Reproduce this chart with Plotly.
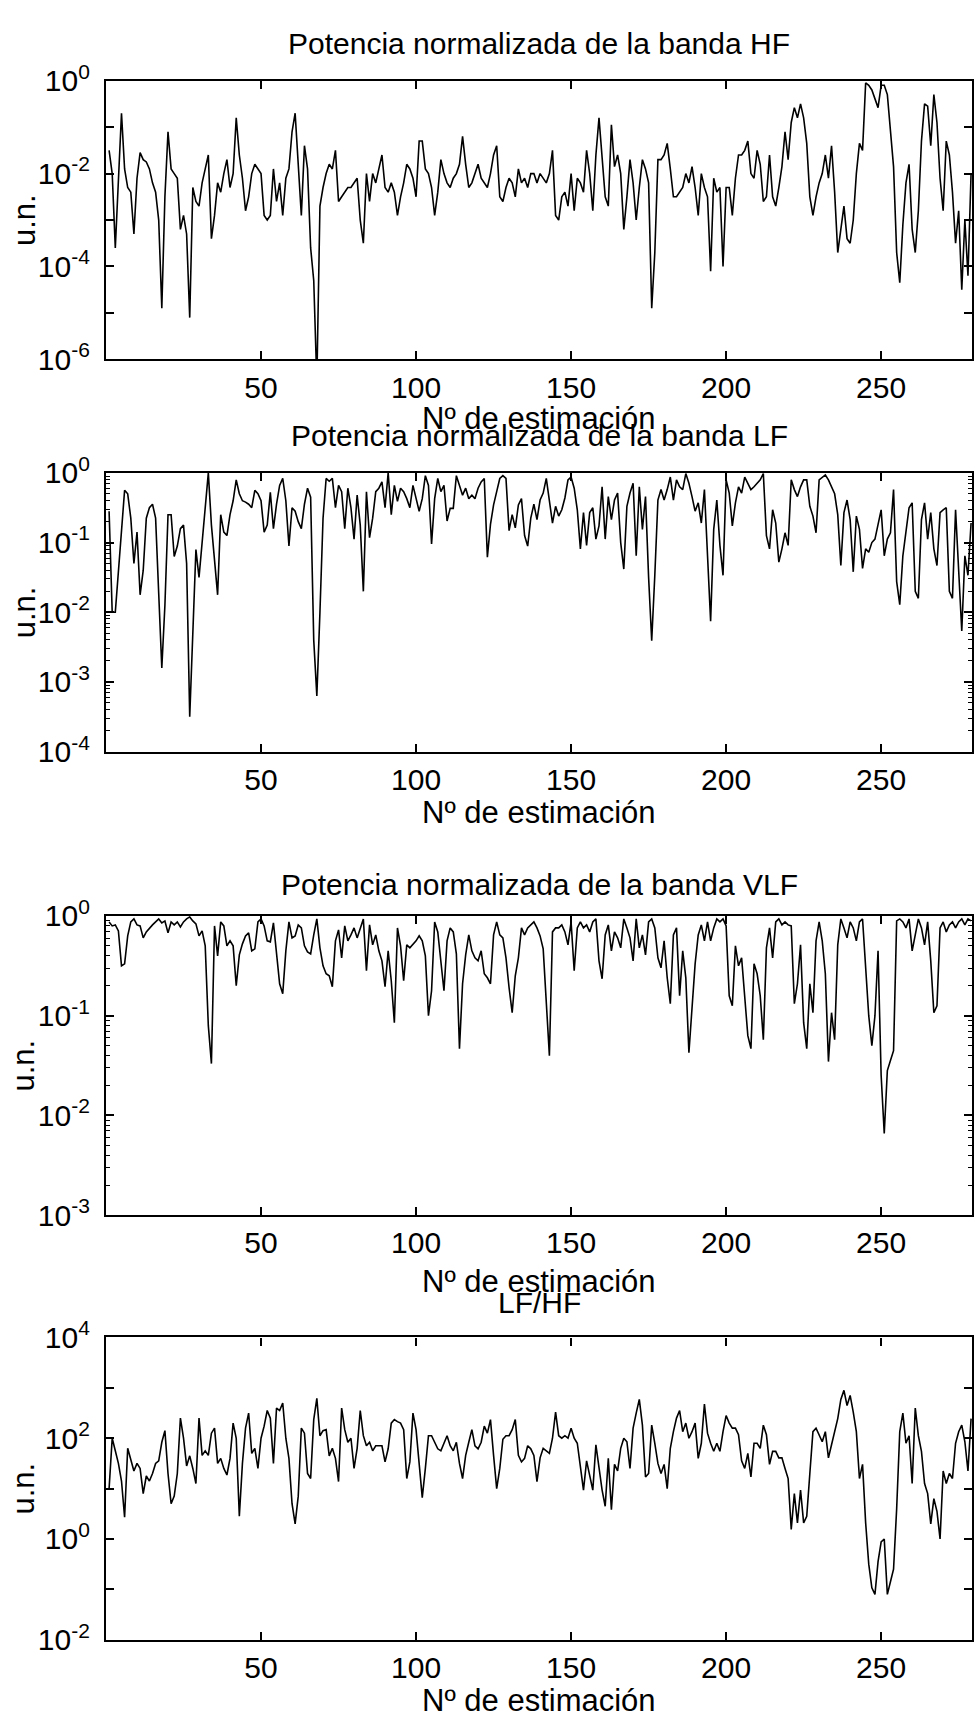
import numpy as np
import plotly.graph_objects as go

# ---------------- data (log10 of the plotted values, one per estimation) ----------------
hf_log10 = [
    -1.5, -2.0, -3.6, -2.0, -0.7, -1.9, -2.3, -2.4, -3.3, -2.1,
    -1.55, -1.7, -1.75, -1.9, -2.2, -2.4, -3.0, -4.9, -2.5, -1.1,
    -1.9, -2.0, -2.1, -3.2, -2.9, -3.3, -5.1, -2.3, -2.6, -2.7,
    -2.2, -1.9, -1.6, -3.4, -2.9, -2.2, -2.4, -2.0, -1.7, -2.3,
    -2.0, -0.8, -1.6, -2.1, -2.8, -2.5, -2.0, -1.8, -1.9, -2.0,
    -2.9, -3.0, -2.9, -1.9, -2.6, -2.2, -2.9, -2.1, -1.9, -1.1,
    -0.7, -1.7, -2.9, -1.4, -1.9, -3.6, -4.3, -6.5, -2.7, -2.3,
    -2.0, -1.8, -1.9, -1.5, -2.6, -2.5, -2.4, -2.3, -2.3, -2.2,
    -2.1, -3.0, -3.5, -2.0, -2.6, -2.0, -2.2, -1.9, -1.6, -2.3,
    -2.4, -2.2, -2.4, -2.9, -2.5, -2.2, -1.8, -1.9, -2.1, -2.5,
    -1.3, -1.3, -1.9, -2.0, -2.3, -2.9, -2.4, -1.7, -2.0, -2.2,
    -2.3, -2.1, -2.0, -1.8, -1.2, -1.8, -2.3, -2.2, -2.0, -1.8,
    -2.1, -2.2, -2.3, -2.0, -1.6, -1.4, -2.5, -2.6, -2.3, -2.1,
    -2.2, -2.5, -1.9, -2.2, -2.1, -2.3, -2.0, -2.0, -2.2, -2.0,
    -2.1, -2.2, -2.0, -1.5, -2.9, -3.0, -2.5, -2.4, -2.7, -2.0,
    -2.8, -2.1, -2.2, -2.4, -1.5, -2.0, -2.8, -1.6, -0.8, -1.7,
    -2.5, -2.7, -0.95, -1.85, -1.6, -2.0, -3.2, -2.5, -1.7, -2.2,
    -3.0, -2.3, -1.7, -1.9, -2.2, -4.9, -3.7, -1.7, -1.7, -1.6,
    -1.35, -1.9, -2.5, -2.5, -2.4, -2.3, -2.0, -2.2, -1.85, -2.3,
    -2.9, -2.0, -2.3, -2.5, -4.1, -2.1, -2.4, -2.3, -4.0, -2.3,
    -2.3, -2.9, -2.1, -1.6, -1.6, -1.5, -1.3, -2.0, -2.1, -1.5,
    -1.8, -2.6, -2.5, -1.6, -2.5, -2.7, -2.3, -1.85, -1.1, -1.7,
    -0.9, -0.58, -0.8, -0.5, -0.8, -1.35, -2.5, -2.9, -2.5, -2.2,
    -2.0, -1.6, -2.1, -1.4, -2.4, -3.7, -3.2, -2.7, -3.4, -3.5,
    -3.0, -2.0, -1.35, -1.5, -0.05, -0.1, -0.2, -0.4, -0.58, -0.1,
    -0.1, -0.3, -1.0, -1.85, -3.7, -4.35, -3.1, -2.2, -1.8, -3.2,
    -3.7, -2.8, -1.3, -0.5, -0.55, -1.4, -0.3, -0.9, -2.1, -2.8,
    -1.3, -1.6, -2.4, -3.5, -2.8, -4.5, -3.0, -4.2, -2.0,
]

lf_log10 = [
    -0.55, -2.0, -2.0, -1.4, -0.75, -0.25, -0.3, -0.65, -1.3, -0.85,
    -1.75, -1.4, -0.65, -0.5, -0.45, -0.65, -1.73, -2.8, -1.9, -0.6,
    -0.6, -1.2, -1.05, -0.8, -0.75, -1.3, -3.5, -2.2, -1.1, -1.5,
    -1.0, -0.4, 0.0, -0.75, -1.3, -1.75, -0.6, -0.85, -0.9, -0.6,
    -0.4, -0.1, -0.3, -0.4, -0.42, -0.45, -0.5, -0.25, -0.3, -0.4,
    -0.85, -0.75, -0.28, -0.8, -0.45, -0.18, -0.08, -0.4, -1.05, -0.5,
    -0.55, -0.7, -0.8, -0.45, -0.22, -0.35, -2.4, -3.2, -2.0, -0.65,
    -0.08, -0.12, -0.08, -0.5, -0.18, -0.27, -0.8, -0.22, -0.5, -0.95,
    -0.32, -0.75, -1.7, -0.27, -0.93, -0.65, -0.27, -0.22, -0.13, -0.5,
    0.0, -0.6, -0.18, -0.41, -0.22, -0.27, -0.37, -0.5, -0.18, -0.37,
    -0.55, -0.37, -0.04, -0.18, -1.02, -0.37, -0.08, -0.27, -0.18, -0.69,
    -0.51, -0.51, -0.04, -0.18, -0.32, -0.22, -0.37, -0.32, -0.37, -0.22,
    -0.13, -0.08, -1.21, -0.74, -0.46, -0.27, -0.08, -0.04, -0.08, -0.83,
    -0.6, -0.79, -0.46, -0.37, -0.9, -1.05, -0.65, -0.45, -0.67, -0.39,
    -0.29, -0.08, -0.39, -0.72, -0.48, -0.62, -0.53, -0.36, -0.1, -0.06,
    -0.22, -0.53, -1.09, -0.57, -1.04, -0.57, -0.5, -0.95, -0.76, -0.2,
    -0.95, -0.34, -0.67, -0.39, -0.29, -1.0, -1.38, -0.48, -0.29, -0.15,
    -1.19, -0.2, -0.81, -0.34, -1.5, -2.41, -1.47, -0.39, -0.24, -0.39,
    -0.24, -0.06, -0.39, -0.1, -0.2, -0.24, -0.01, -0.15, -0.34, -0.55,
    -0.43, -0.72, -0.24, -1.2, -2.13, -0.81, -0.39, -1.04, -1.47, -0.1,
    -0.29, -0.76, -0.43, -0.2, -0.29, -0.06, -0.15, -0.24, -0.2, -0.15,
    -0.1, -0.01, -0.9, -1.09, -0.53, -0.72, -1.28, -1.09, -0.86, -1.04,
    -0.1, -0.24, -0.34, -0.2, -0.1, -0.1, -0.48, -0.62, -0.86, -0.1,
    -0.06, -0.03, -0.1, -0.2, -0.3, -0.6, -1.33, -0.57, -0.39, -0.67,
    -1.42, -0.62, -0.81, -1.37, -1.09, -1.14, -1.0, -0.95, -0.76, -0.53,
    -1.19, -0.95, -0.86, -0.24, -1.56, -1.89, -1.19, -0.86, -0.5, -0.43,
    -1.7, -1.8, -0.67, -0.43, -0.95, -0.57, -1.09, -1.33, -0.57, -0.53,
    -0.5, -1.7, -1.8, -0.53, -1.5, -2.27, -1.19, -1.47, -0.72,
]

vlf_log10 = [
    -0.06, -0.1, -0.09, -0.15, -0.5, -0.48, -0.2, -0.06, -0.03, -0.09,
    -0.1, -0.22, -0.16, -0.12, -0.09, -0.06, -0.03, -0.07, -0.05, -0.17,
    -0.06, -0.09, -0.06, -0.11, -0.06, -0.03, -0.01, -0.05, -0.08, -0.2,
    -0.15, -0.3, -1.1, -1.48, -0.1, -0.4, -0.06, -0.1, -0.3, -0.25,
    -0.3, -0.7, -0.39, -0.28, -0.2, -0.17, -0.35, -0.33, -0.06, -0.03,
    -0.1, -0.25, -0.26, -0.07, -0.38, -0.68, -0.78, -0.35, -0.06, -0.22,
    -0.2, -0.09, -0.12, -0.3, -0.36, -0.38, -0.19, -0.03, -0.32, -0.5,
    -0.58, -0.6, -0.71, -0.25, -0.14, -0.42, -0.1, -0.25, -0.19, -0.12,
    -0.22, -0.12, -0.03, -0.55, -0.09, -0.29, -0.19, -0.35, -0.45, -0.71,
    -0.35, -0.65, -1.07, -0.12, -0.3, -0.65, -0.29, -0.32, -0.29, -0.25,
    -0.2, -0.25, -0.4, -1.0, -0.75, -0.06, -0.16, -0.45, -0.75, -0.25,
    -0.12, -0.16, -0.38, -1.33, -0.68, -0.39, -0.19, -0.35, -0.42, -0.45,
    -0.35, -0.58, -0.62, -0.68, -0.19, -0.06, -0.19, -0.22, -0.42, -0.72,
    -0.97, -0.6, -0.42, -0.12, -0.19, -0.12, -0.09, -0.06, -0.12, -0.2,
    -0.33, -0.85, -1.4, -0.16, -0.12, -0.12, -0.09, -0.16, -0.29, -0.06,
    -0.55, -0.12, -0.06, -0.12, -0.09, -0.16, -0.06, -0.03, -0.45, -0.63,
    -0.19, -0.09, -0.35, -0.16, -0.22, -0.32, -0.03, -0.12, -0.22, -0.45,
    -0.03, -0.32, -0.19, -0.39, -0.06, -0.03, -0.12, -0.42, -0.52, -0.25,
    -0.62, -0.88, -0.19, -0.12, -0.8, -0.35, -0.62, -1.37, -0.9, -0.48,
    -0.19, -0.09, -0.25, -0.06, -0.25, -0.12, -0.03, -0.06, -0.03, -0.1,
    -0.8, -0.9, -0.3, -0.5, -0.42, -0.85, -1.2, -1.33, -0.48, -0.58,
    -0.8, -1.24, -0.32, -0.12, -0.42, -0.06, -0.03, -0.09, -0.06, -0.09,
    -0.1, -0.88, -0.68, -0.29, -1.07, -1.33, -0.68, -0.97, -0.25, -0.06,
    -0.25, -0.58, -1.46, -0.97, -1.24, -0.29, -0.03, -0.12, -0.22, -0.06,
    -0.12, -0.25, -0.06, -0.03, -0.58, -1.0, -1.3, -1.0, -0.35, -1.6,
    -2.18, -1.55, -1.45, -1.35, -0.05, -0.03, -0.06, -0.12, -0.03, -0.35,
    -0.19, -0.03, -0.12, -0.29, -0.06, -0.45, -0.97, -0.9, -0.12, -0.06,
    -0.16, -0.09, -0.06, -0.12, -0.06, -0.03, -0.09, -0.03, -0.05,
]

lfhf_log10 = [
    1.0, 2.0, 1.75, 1.5, 1.15, 0.43, 1.8, 1.6, 1.35, 1.5,
    1.4, 0.9, 1.25, 1.15, 1.3, 1.5, 1.55, 1.92, 2.15, 1.3,
    0.7, 0.85, 1.3, 2.4, 2.0, 1.45, 1.65, 1.4, 1.1, 2.4,
    1.66, 1.75, 1.66, 2.1, 2.2, 1.5, 1.6, 1.4, 1.27, 1.6,
    2.3, 2.0, 0.45, 1.5, 2.2, 2.5, 1.7, 1.8, 1.4, 2.0,
    2.24, 2.55, 2.4, 1.5, 2.6, 2.55, 2.7, 2.0, 1.6, 0.7,
    0.3, 0.85, 2.2, 2.1, 1.3, 1.2, 2.37, 2.79, 2.05, 2.15,
    2.17, 1.65, 1.8, 1.6, 1.14, 2.6, 2.17, 1.92, 2.0, 1.4,
    1.8, 2.55, 2.05, 1.85, 1.92, 1.75, 1.85, 1.85, 1.85, 1.53,
    1.79, 2.3, 2.37, 2.33, 2.3, 2.17, 1.2, 1.53, 2.5, 2.17,
    1.53, 0.82, 1.4, 2.05, 2.05, 1.92, 1.79, 1.75, 1.92, 2.05,
    1.85, 1.75, 1.92, 1.5, 1.2, 1.66, 1.92, 2.17, 1.85, 1.79,
    1.92, 2.24, 2.1, 2.37, 1.66, 1.0, 1.4, 1.98, 2.05, 2.05,
    2.17, 2.37, 1.66, 1.53, 1.6, 1.85, 1.79, 1.66, 1.14, 1.61,
    1.8, 1.74, 1.7, 2.0, 2.52, 2.05, 2.0, 2.05, 2.0, 2.2,
    2.0, 1.9, 1.4, 0.97, 1.55, 1.23, 0.97, 1.87, 1.4, 0.97,
    0.65, 1.6, 0.58, 1.48, 1.35, 1.8, 2.0, 1.93, 1.4, 2.2,
    2.5, 2.77, 2.26, 1.23, 1.3, 2.26, 1.9, 1.5, 1.3, 1.48,
    1.0, 1.8, 2.13, 2.4, 2.55, 2.13, 2.3, 2.0, 2.13, 2.3,
    1.6, 1.9, 2.68, 2.1, 1.9, 1.74, 1.9, 1.74, 2.13, 2.45,
    2.3, 2.2, 2.2, 2.07, 1.55, 1.4, 1.7, 1.23, 1.9, 1.9,
    1.8, 2.26, 2.07, 1.48, 1.74, 1.74, 1.61, 1.61, 1.4, 1.2,
    0.19, 0.9, 0.32, 0.97, 0.32, 0.45, 1.3, 2.13, 2.2, 2.07,
    1.93, 2.13, 1.61, 1.87, 2.13, 2.39, 2.77, 2.95, 2.65, 2.85,
    2.52, 2.13, 1.2, 1.48, 0.32, -0.5, -0.97, -1.1, -0.45, -0.06,
    0.0, -1.1, -0.85, -0.6, 0.6, 2.13, 2.5, 1.9, 2.05, 1.1,
    2.6, 2.05, 1.74, 1.1, 0.9, 0.3, 0.8, 0.55, 0.0, 1.35,
    1.1, 1.3, 1.2, 1.9, 2.13, 2.26, 1.93, 1.35, 2.39,
]

titles = ["Potencia normalizada de la banda HF",
          "Potencia normalizada de la banda LF",
          "Potencia normalizada de la banda VLF",
          "LF/HF"]
x_label = "Nº de estimación"
y_label = "u.n."
x_ticks = [50, 100, 150, 200, 250]

# ---------------- layout helpers ----------------
W, H = 974, 1733
FONT = "Arial, Liberation Sans, sans-serif"
TITLE_SIZE = 30
LABEL_SIZE = 31
TICK_SIZE = 30


def fx(p):
    return p / W


def fy(p):
    return 1 - p / H


panels = [
    dict(data=hf_log10, top=61, bot=346, yr=(-6, 0), labeled=[-6, -4, -2, 0], minor=False,
         title_y=23, xlab_y=406),
    dict(data=lf_log10, top=462, bot=747, yr=(-4, 0), labeled=[-4, -3, -2, -1, 0], minor=True,
         title_y=424, xlab_y=809),
    dict(data=vlf_log10, top=915, bot=1221, yr=(-3, 0), labeled=[-3, -2, -1, 0], minor=True,
         title_y=883, xlab_y=1289),
    dict(data=lfhf_log10, top=1346, bot=1655, yr=(-2, 4), labeled=[-2, 0, 2, 4], minor=False,
         title_y=1310, xlab_y=1717),
]

X_LEFT, X_RIGHT = 106, 972
X_RANGE = [0, 279.3]

fig = go.Figure()
annotations = []
for i, p in enumerate(panels, start=1):
    vals = np.power(10.0, np.array(p["data"], dtype=float))
    xs = np.arange(1, len(vals) + 1)
    xa = "x" if i == 1 else f"x{i}"
    ya = "y" if i == 1 else f"y{i}"
    fig.add_trace(go.Scatter(x=xs, y=vals, mode="lines", xaxis=xa, yaxis=ya,
                             line=dict(color="black", width=1.6), showlegend=False,
                             hoverinfo="skip"))

    lo, hi = p["yr"]
    decades = list(range(lo, hi + 1))
    tickvals = [10.0 ** k for k in decades]
    ticktext = [f"10<sup>{k}</sup>" if k in p["labeled"] else "" for k in decades]
    yaxis = dict(
        type="log", range=[lo, hi], domain=[fy(p["bot"]), fy(p["top"])],
        anchor=xa, tickmode="array", tickvals=tickvals, ticktext=ticktext,
        ticks="inside", ticklen=8, tickwidth=1.5, tickcolor="black",
        showline=True, linecolor="black", linewidth=2.2, mirror="ticks",
        showgrid=False, zeroline=False, ticklabelstandoff=8,
        tickfont=dict(family=FONT, size=TICK_SIZE, color="black"),
    )
    if p["minor"]:
        mv = [m * 10.0 ** k for k in range(lo, hi) for m in range(2, 10)]
        yaxis["minor"] = dict(tickmode="array", tickvals=mv, ticks="inside",
                              ticklen=4, tickwidth=1.2, tickcolor="black", showgrid=False)
    xaxis = dict(
        range=X_RANGE, domain=[fx(X_LEFT), fx(X_RIGHT)], anchor=ya,
        tickmode="array", tickvals=x_ticks, ticktext=[str(t) for t in x_ticks],
        ticks="inside", ticklen=8, tickwidth=1.5, tickcolor="black",
        showline=True, linecolor="black", linewidth=2.2, mirror="ticks",
        showgrid=False, zeroline=False, ticklabelstandoff=0,
        tickfont=dict(family=FONT, size=TICK_SIZE, color="black"),
    )
    fig.update_layout(**{("xaxis" if i == 1 else f"xaxis{i}"): xaxis,
                         ("yaxis" if i == 1 else f"yaxis{i}"): yaxis})

    annotations.append(dict(text=titles[i - 1], x=fx((X_LEFT + X_RIGHT) / 2), y=fy(p["title_y"]),
                            xref="paper", yref="paper", xanchor="center", yanchor="middle",
                            showarrow=False, font=dict(family=FONT, size=TITLE_SIZE, color="black")))
    annotations.append(dict(text=x_label, x=fx((X_LEFT + X_RIGHT) / 2), y=fy(p["xlab_y"]),
                            xref="paper", yref="paper", xanchor="center", yanchor="middle",
                            showarrow=False, font=dict(family=FONT, size=LABEL_SIZE, color="black")))
    annotations.append(dict(text=y_label, x=fx(24), y=fy((p["top"] + p["bot"]) / 2),
                            xref="paper", yref="paper", xanchor="center", yanchor="middle",
                            textangle=-90, showarrow=False,
                            font=dict(family=FONT, size=LABEL_SIZE, color="black")))

fig.update_layout(
    width=W, height=H, margin=dict(l=0, r=0, t=0, b=0),
    paper_bgcolor="white", plot_bgcolor="white",
    annotations=annotations, showlegend=False,
)

fig.write_html("out.html")
